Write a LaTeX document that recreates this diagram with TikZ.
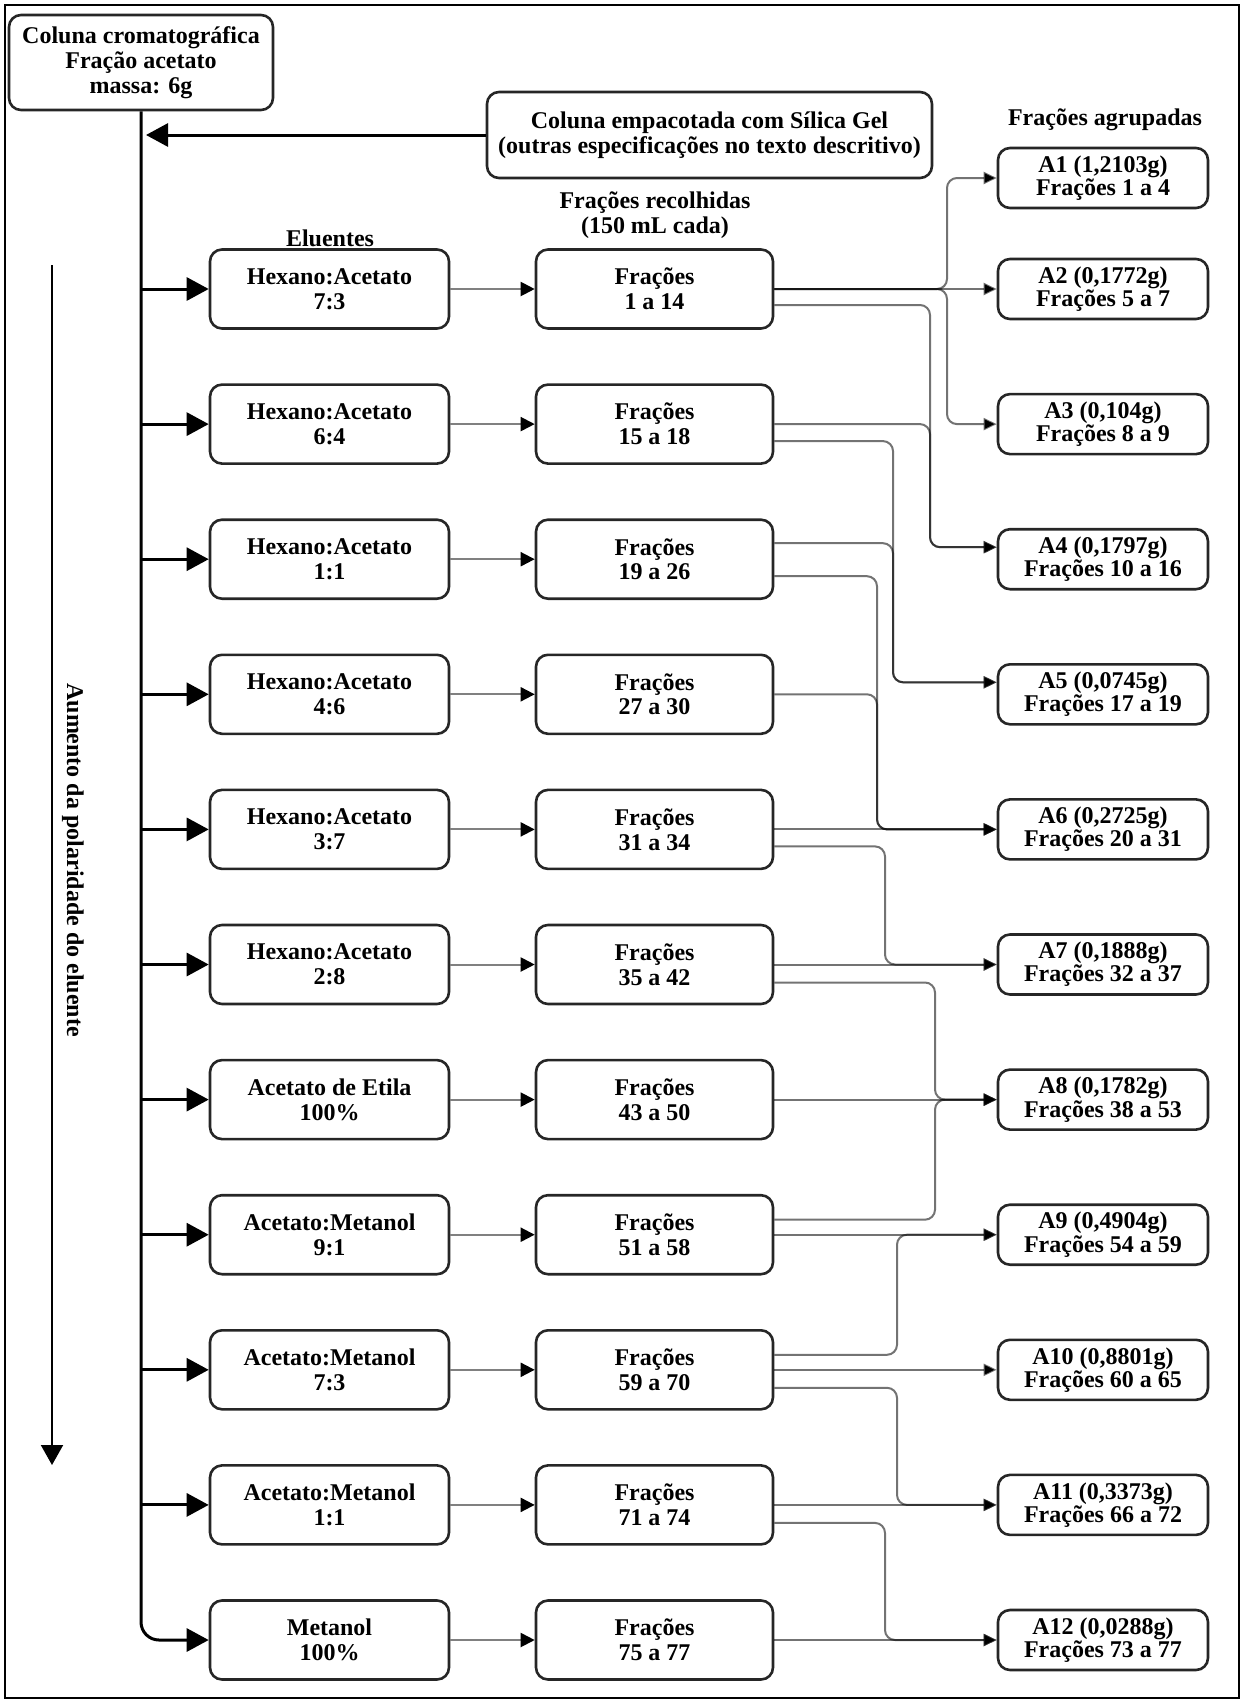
\documentclass[tikz,border=0pt]{standalone}
\usepackage{fontspec}
\setmainfont{Liberation Serif}
\usetikzlibrary{arrows.meta}
\begin{document}
\begin{tikzpicture}[x=0.5pt,y=-0.5pt,
  font=\fontsize{12}{12.4}\selectfont\bfseries,
  box/.style={draw=black!85, line width=1.3pt, rounded corners=6pt, align=center, inner sep=0pt, fill=white},
  elu/.style={box, minimum width=119.5pt, minimum height=39.5pt},
  frac/.style={box, minimum width=118.5pt, minimum height=39.5pt},
  grp/.style={box, minimum width=105pt, minimum height=30pt, font=\fontsize{12}{11.6}\selectfont\bfseries},
  lbl/.style={align=center, inner sep=0pt},
  feed/.style={line width=1.5pt, -{Triangle[length=11pt,width=11.5pt]}},
  pass/.style={draw=black!50, line width=1pt, -{Triangle[length=7pt,width=7pt,color=black]}},
  link/.style={draw=black, draw opacity=0.55, line width=1pt, rounded corners=5pt, -{Triangle[length=6.5pt,width=6pt]}}]
\useasboundingbox (0,0) rectangle (1244,1703);
\draw[line width=1pt] (5,5) rectangle (1239,1698);

% header boxes and labels
\node[box, minimum width=132pt, minimum height=47.5pt] (top) at (141,62.5) {Coluna cromatográfica\\Fração acetato\\massa: 6g};
\node[box, minimum width=222.5pt, minimum height=43pt] (col) at (709.5,135) {Coluna empacotada com Sílica Gel\\(outras especificações no texto descritivo)};
\node[lbl] (lagr) at (1105,120) {Frações agrupadas};
\node[lbl] (lrec) at (655,215) {Frações recolhidas\\(150 mL cada)};
\node[lbl] (lelu) at (330,238) {Eluentes};

% eluent boxes
\node[elu] (e1)  at (329.5,289.0)  {Hexano:Acetato\\7:3};
\node[elu] (e2)  at (329.5,424.1)  {Hexano:Acetato\\6:4};
\node[elu] (e3)  at (329.5,559.2)  {Hexano:Acetato\\1:1};
\node[elu] (e4)  at (329.5,694.3)  {Hexano:Acetato\\4:6};
\node[elu] (e5)  at (329.5,829.4)  {Hexano:Acetato\\3:7};
\node[elu] (e6)  at (329.5,964.5)  {Hexano:Acetato\\2:8};
\node[elu] (e7)  at (329.5,1099.6) {Acetato de Etila\\100\%};
\node[elu] (e8)  at (329.5,1234.7) {Acetato:Metanol\\9:1};
\node[elu] (e9)  at (329.5,1369.8) {Acetato:Metanol\\7:3};
\node[elu] (e10) at (329.5,1504.9) {Acetato:Metanol\\1:1};
\node[elu] (e11) at (329.5,1640.0) {Metanol\\100\%};

% fraction boxes
\node[frac] (f1)  at (654.5,289.0)  {Frações\\1 a 14};
\node[frac] (f2)  at (654.5,424.1)  {Frações\\15 a 18};
\node[frac] (f3)  at (654.5,559.2)  {Frações\\19 a 26};
\node[frac] (f4)  at (654.5,694.3)  {Frações\\27 a 30};
\node[frac] (f5)  at (654.5,829.4)  {Frações\\31 a 34};
\node[frac] (f6)  at (654.5,964.5)  {Frações\\35 a 42};
\node[frac] (f7)  at (654.5,1099.6) {Frações\\43 a 50};
\node[frac] (f8)  at (654.5,1234.7) {Frações\\51 a 58};
\node[frac] (f9)  at (654.5,1369.8) {Frações\\59 a 70};
\node[frac] (f10) at (654.5,1504.9) {Frações\\71 a 74};
\node[frac] (f11) at (654.5,1640.0) {Frações\\75 a 77};

% grouped fractions
\node[grp] (A1)  at (1103,178)    {A1 (1,2103g)\\Frações 1 a 4};
\node[grp] (A2)  at (1103,289.0)  {A2 (0,1772g)\\Frações 5 a 7};
\node[grp] (A3)  at (1103,424.1)  {A3 (0,104g)\\Frações 8 a 9};
\node[grp] (A4)  at (1103,559.2)  {A4 (0,1797g)\\Frações 10 a 16};
\node[grp] (A5)  at (1103,694.3)  {A5 (0,0745g)\\Frações 17 a 19};
\node[grp] (A6)  at (1103,829.4)  {A6 (0,2725g)\\Frações 20 a 31};
\node[grp] (A7)  at (1103,964.5)  {A7 (0,1888g)\\Frações 32 a 37};
\node[grp] (A8)  at (1103,1099.6) {A8 (0,1782g)\\Frações 38 a 53};
\node[grp] (A9)  at (1103,1234.7) {A9 (0,4904g)\\Frações 54 a 59};
\node[grp] (A10) at (1103,1369.8) {A10 (0,8801g)\\Frações 60 a 65};
\node[grp] (A11) at (1103,1504.9) {A11 (0,3373g)\\Frações 66 a 72};
\node[grp] (A12) at (1103,1640.0) {A12 (0,0288g)\\Frações 73 a 77};

% polarity arrow
\coordinate (pa) at (52,265);
\coordinate (pb) at (52,1465);
\draw[line width=1pt, -{Triangle[length=10pt,width=11pt]}] (pa) -- (pb);
\node[rotate=-90, inner sep=0pt] (pol) at (73,860) {Aumento da polaridade do eluente};

% main column line
\draw[line width=1.5pt, rounded corners=9pt, -{Triangle[length=11pt,width=11.5pt]}] (top.south) |- (e11.west);
\coordinate (colend) at (top.south |- col.west);
\draw[feed] (col.west) -- ([xshift=2.5pt]colend);
\foreach \i in {1,...,10} {
  \draw[feed] (top.south |- e\i.west) -- (e\i.west);
}
\foreach \i in {1,...,11} {
  \draw[pass] (e\i.east) -- (f\i.west);
}

% routing columns
\coordinate (v1) at (947,0);
\coordinate (v2) at (930,0);
\coordinate (v3) at (893,0);
\coordinate (v4) at (877,0);
\coordinate (v5) at (885,0);
\coordinate (v6) at (935,0);
\coordinate (v7) at (897,0);
\coordinate (a4in) at ([yshift=6pt]A4.west);
\coordinate (a5in) at ([yshift=6pt]A5.west);

\draw[link] (f1.east) -| (v1 |- A1.west) -- (A1.west);
\draw[link] (f1.east) -- (A2.west);
\draw[link] (f1.east) -| (v1 |- A3.west) -- (A3.west);
\draw[link] ([yshift=-8pt]f1.east) -| (v2 |- a4in) -- (a4in);
\draw[link] (f2.east) -| (v2 |- a4in) -- (a4in);
\draw[link] ([yshift=-8.5pt]f2.east) -| (v3 |- a5in) -- (a5in);
\draw[link] ([yshift=8pt]f3.east) -| (v3 |- a5in) -- (a5in);
\draw[link] ([yshift=-8.5pt]f3.east) -| (v4 |- A6.west) -- (A6.west);
\draw[link] (f4.east) -| (v4 |- A6.west) -- (A6.west);
\draw[link] (f5.east) -- (A6.west);
\draw[link] ([yshift=-8.5pt]f5.east) -| (v5 |- A7.west) -- (A7.west);
\draw[link] (f6.east) -- (A7.west);
\draw[link] ([yshift=-9pt]f6.east) -| (v6 |- A8.west) -- (A8.west);
\draw[link] (f7.east) -- (A8.west);
\draw[link] ([yshift=7.5pt]f8.east) -| (v6 |- A8.west) -- (A8.west);
\draw[link] (f8.east) -- (A9.west);
\draw[link] ([yshift=7.5pt]f9.east) -| (v7 |- A9.west) -- (A9.west);
\draw[link] (f9.east) -- (A10.west);
\draw[link] ([yshift=-9pt]f9.east) -| (v7 |- A11.west) -- (A11.west);
\draw[link] (f10.east) -- (A11.west);
\draw[link] ([yshift=-9pt]f10.east) -| (v5 |- A12.west) -- (A12.west);
\draw[link] (f11.east) -- (A12.west);
\end{tikzpicture}
\end{document}
